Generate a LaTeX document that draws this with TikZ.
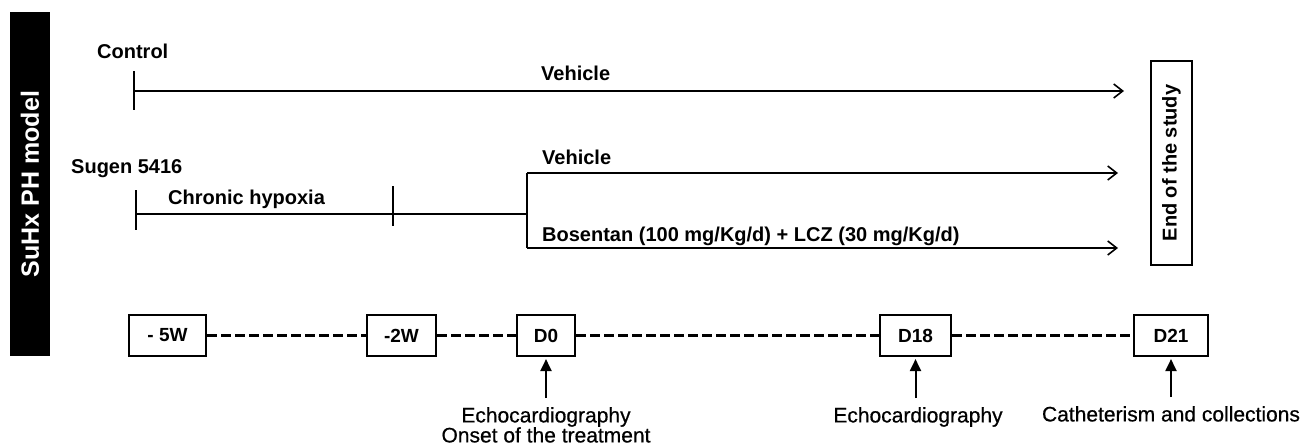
\documentclass[tikz,border=0pt]{standalone}
\usepackage{fontspec}
\setmainfont{Liberation Sans}
\newfontfamily\notefont[FakeBold=0.6]{Liberation Sans}
\usetikzlibrary{arrows.meta}

\tikzset{
    lbl/.style={font=\fontsize{20}{24}\selectfont\bfseries, inner sep=0pt, anchor=base west},
    daybox/.style={draw, line width=1.6pt, font=\fontsize{19}{22}\selectfont\bfseries,
        minimum height=41.5pt, inner sep=0pt},
    note/.style={font=\notefont\fontsize{21}{20}\selectfont, align=center, inner sep=0pt, anchor=north},
    arm/.style={line width=1.6pt, -{Straight Barb[length=9pt,width=14pt]}},
    dashline/.style={line width=3.5pt, dash pattern=on 10pt off 4pt},
    uparrow/.style={line width=2pt, -{Triangle[length=12pt,width=11pt]}, shorten >=2pt, shorten <=9pt},
}

\begin{document}
\begin{tikzpicture}[x=1pt, y=-1pt]
        \useasboundingbox (0,0) rectangle (1309,447);
        % side bar
        \node[fill=black, text=white, rotate=90, minimum width=344pt, minimum height=40pt, inner sep=0pt,
            font=\fontsize{25}{30}\selectfont\bfseries] (model) at (30,184) {SuHx PH model};
        % control group
        \node[lbl] (ctl) at (97,58) {Control};
        \coordinate (ctl0) at (134,91);
        \coordinate (ctl1) at (1124,91);
        \draw[arm] (ctl0) -- (ctl1);
        \draw[line width=1.6pt] ([yshift=20pt]ctl0) -- ([yshift=-19pt]ctl0);
        \node[lbl] (ctlveh) at (541,80) {Vehicle};
        % sugen + hypoxia group
        \node[lbl] (sugen) at (71,173) {Sugen 5416};
        \node[lbl] (hypox) at (168,204) {Chronic hypoxia};
        \coordinate (su0) at (136,214);
        \coordinate (su1) at (393,214);
        \coordinate (fork) at (527,214);
        \coordinate (veh0) at (527,173);
        \coordinate (bos0) at (527,248);
        \coordinate (veh1) at (1118,173);
        \coordinate (bos1) at (1118,248);
        \draw[line width=1.6pt] (su0) -- (fork) (veh0) -- (bos0);
        \draw[line width=1.6pt] ([yshift=24pt]su0) -- ([yshift=-16pt]su0)
            ([yshift=28pt]su1) -- ([yshift=-12pt]su1);
        \draw[arm] (veh0) -- (veh1);
        \draw[arm] (bos0) -- (bos1);
        \node[lbl] (suveh) at (542,164) {Vehicle};
        \node[lbl] (bos) at (542,241) {Bosentan (100 mg/Kg/d) + LCZ (30 mg/Kg/d)};
        % end of the study
        \node[draw, line width=1.6pt, rotate=90, minimum width=204.5pt, minimum height=41.5pt, inner sep=0pt,
            font=\fontsize{20}{24}\selectfont\bfseries] (endbox) at (1171.5,163) {End of the study};
        % time line
        \node[daybox, minimum width=77.5pt] (m5w) at (167.5,335.5) {- 5W};
        \node[daybox, minimum width=69.5pt] (m2w) at (401.5,335.5) {-2W};
        \node[daybox, minimum width=58.5pt] (d0) at (546,335.5) {D0};
        \node[daybox, minimum width=71.5pt] (d18) at (915.5,335.5) {D18};
        \node[daybox, minimum width=74.5pt] (d21) at (1171,335.5) {D21};
        \draw[dashline] (m5w) -- (m2w);
        \draw[dashline] (m2w) -- (d0);
        \draw[dashline] (d0) -- (d18);
        \draw[dashline] (d18) -- (d21);
        % measurements
        \node[note] (echo0) at (546,407) {Echocardiography\\Onset of the treatment};
        \node[note] (echo18) at (918,407) {Echocardiography};
        \node[note] (cath) at (1171,406) {Catheterism and collections};
        \draw[uparrow] (echo0.north) -- (d0.south);
        \draw[uparrow] (echo18.north -| d18) -- (d18.south);
        \draw[uparrow] (cath.north) -- (d21.south);
    \end{tikzpicture}
\end{document}
